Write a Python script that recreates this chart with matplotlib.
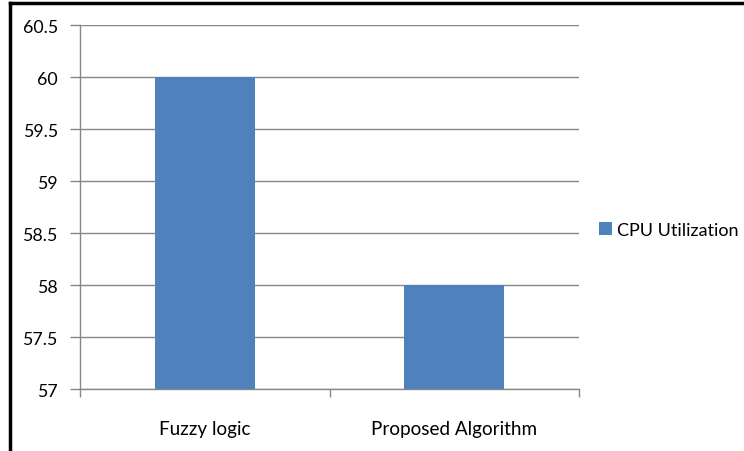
import matplotlib
matplotlib.use("Agg")
import matplotlib.pyplot as plt
from matplotlib.lines import Line2D
from matplotlib.patches import Patch

categories = ["Fuzzy logic", "Proposed Algorithm"]
cpu_utilization = [60, 58]
series_name = "CPU Utilization"
y_ticks = [57, 57.5, 58, 58.5, 59, 59.5, 60, 60.5]
y_tick_labels = ["57", "57.5", "58", "58.5", "59", "59.5", "60", "60.5"]

plt.rcParams["font.family"] = ["Lato", "DejaVu Sans"]

bar_color = "#4F81BD"
grid_color = "#878787"

fig = plt.figure(figsize=(7.44, 4.52), dpi=100)
ax = fig.add_axes([80 / 744, 62 / 452, 499 / 744, 364 / 452])

x = list(range(len(categories)))
ax.bar(x, [v - 57 for v in cpu_utilization], bottom=57, width=0.4,
       color=bar_color, zorder=3)

ax.set_xlim(-0.5, len(categories) - 0.5)
ax.set_ylim(57, 60.5)
ax.set_yticks(y_ticks)
ax.set_yticklabels(y_tick_labels)
ax.yaxis.grid(True, color=grid_color, linewidth=1.0, zorder=0)
ax.set_axisbelow(True)

ax.set_xticks(x)
ax.set_xticklabels(categories)
ax.set_xticks([-0.5, 0.5, 1.5], minor=True)
ax.tick_params(axis="x", which="major", length=0, pad=22, labelsize=13.6)
ax.tick_params(axis="x", which="minor", length=6, width=1.0, color=grid_color)
ax.tick_params(axis="y", length=7, width=1.0, color=grid_color, pad=9,
               labelsize=12.8)

for side in ("top", "right"):
    ax.spines[side].set_visible(False)
for side in ("left", "bottom"):
    ax.spines[side].set_color(grid_color)
    ax.spines[side].set_linewidth(1.0)

handle = Patch(facecolor=bar_color, edgecolor="none")
fig.legend([handle], [series_name], loc="center left",
           bbox_to_anchor=(599 / 744, 1 - 231 / 452), frameon=False,
           fontsize=13.0, handlelength=0.72, handleheight=0.72,
           handletextpad=0.3, borderaxespad=0, borderpad=0)

# outer frame of the chart area (top and left edges)
fig.add_artist(Line2D([9.5 / 744, 1], [1 - 4 / 452, 1 - 4 / 452],
                      transform=fig.transFigure, color="black", linewidth=2.5))
fig.add_artist(Line2D([9.5 / 744, 9.5 / 744], [0, 1 - 4 / 452],
                      transform=fig.transFigure, color="black", linewidth=2.5))

fig.savefig("out.png", dpi=100, facecolor="white")
